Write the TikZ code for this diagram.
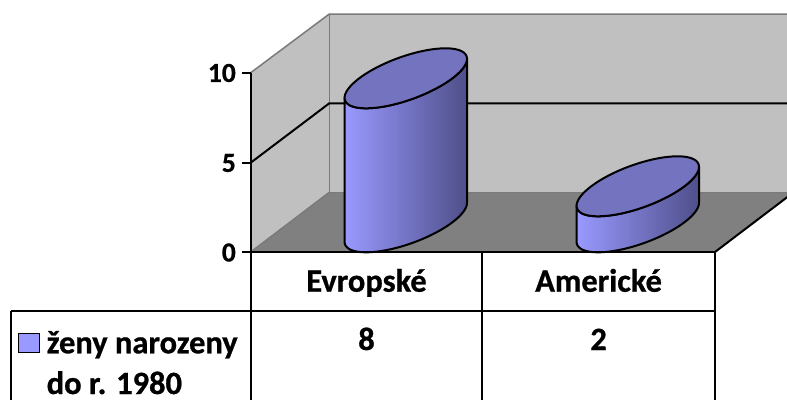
\documentclass[tikz,border=0pt]{standalone}
\usepackage{fontspec}
\setmainfont{Carlito}
\newfontfamily\chartfont{Carlito Bold}[FakeBold=0.8]
\usepackage{graphicx}
\definecolor{wallgray}{HTML}{C0C0C0}
\definecolor{floorgray}{HTML}{808080}
\definecolor{edgegray}{HTML}{7A7A7A}
\definecolor{barlight}{HTML}{9999FF}
\definecolor{bardark}{HTML}{4F4F8A}
\definecolor{bartop}{HTML}{7373C0}
\tikzset{
  blk/.style={line width=2pt, black},
  gedge/.style={line width=1.5pt, edgegray},
  tabtxt/.style={inner sep=0pt, anchor=base, font=\fontsize{32.5}{38}\chartfont},
  axtxt/.style={inner sep=0pt, anchor=east, font=\fontsize{27.5}{32}\chartfont},
}
% cylinder: #1 base-centre x, #2 base-centre y, #3 height
\newcommand\cylbar[3]{%
  \fill[left color=barlight, right color=bardark]
    plot[domain=40.43:-139.57, samples=60, variable=\t]
      ({#1+46.6*cos(\t)+39.7*sin(\t)}, {#2-30*sin(\t)})
    -- plot[domain=220.43:400.43, samples=60, variable=\t]
      ({#1+46.6*cos(\t)+39.7*sin(\t)}, {#2-#3-30*sin(\t)})
    -- cycle;
  \draw[blk, line join=round]
    plot[domain=40.43:-139.57, samples=60, variable=\t]
      ({#1+46.6*cos(\t)+39.7*sin(\t)}, {#2-30*sin(\t)})
    -- plot[domain=220.43:400.43, samples=60, variable=\t]
      ({#1+46.6*cos(\t)+39.7*sin(\t)}, {#2-#3-30*sin(\t)})
    -- cycle;
  \filldraw[blk, fill=bartop]
    plot[domain=0:360, samples=90, variable=\t]
      ({#1+46.6*cos(\t)+39.7*sin(\t)}, {#2-#3-30*sin(\t)}) -- cycle;
}
\begin{document}
\begin{tikzpicture}[x=1pt, y=-1pt]
\useasboundingbox (0,0) rectangle (787,400);
\begin{scope}
\clip (0,0) rectangle (787,400);
% corner coordinates of the 3-D frame
\coordinate (fl) at (250.7,252);   % floor front left
\coordinate (fr) at (715,252);     % floor front right
\coordinate (bl) at (329.3,192.3); % floor back left
\coordinate (br) at (793.6,192.3); % floor back right
\coordinate (tl) at (250.7,72.7);  % left wall top front
\coordinate (tb) at (329.3,14);    % back wall top left
\coordinate (tr) at (793.6,14);    % back wall top right
\coordinate (g5f) at (250.7,162.7);
\coordinate (g5b) at (329.3,103.3);
\coordinate (g5r) at (793.6,103.3);
% walls and floor
\fill[wallgray] (tb) rectangle (br);
\fill[wallgray] (tl) -- (tb) -- (bl) -- (fl) -- cycle;
\fill[floorgray] (fl) -- (bl) -- (br) -- (fr) -- cycle;
\draw[gedge] (tl) -- (tb) -- (tr);
\draw[gedge] (tb) -- (bl) -- (br);
\draw[gedge] (fl) -- (bl);
% grid line at 5
\draw[blk] (g5f) -- (g5b) -- (g5r);
% bars
\cylbar{405.8}{222.3}{144}
\cylbar{637.8}{222.3}{36}
% floor right edge
\draw[blk] (fr) -- (br);
\end{scope}
% axis, ticks
\coordinate (axb) at (250.7,400);
\coordinate (t10) at (242,72.7);
\coordinate (t5) at (242,162.7);
\coordinate (t0) at (242,252);
\draw[blk] (tl) -- (axb);
\draw[blk] (t10) -- (tl);
\draw[blk] (t5) -- (g5f);
\draw[blk] (t0) -- (fr);
\node[axtxt] (l10) at (236,73) {10};
\node[axtxt] (l5) at (236,163) {5};
\node[axtxt] (l0) at (236,252.5) {0};
% table
\coordinate (c1t) at (482.3,252);
\coordinate (c1b) at (482.3,400);
\coordinate (c2b) at (715,400);
\coordinate (rl) at (11,311);
\coordinate (rr) at (715,311);
\coordinate (lb) at (11,400);
\draw[blk] (c1t) -- (c1b);
\draw[blk] (fr) -- (c2b);
\draw[blk] (rl) -- (rr);
\draw[blk] (rl) -- (lb);
\node[tabtxt] (h1) at (366.5,291.7) {Evropské};
\node[tabtxt] (h2) at (598.6,291.7) {Americké};
\node[tabtxt] (v1) at (366.5,350) {8};
\node[tabtxt] (v2) at (598.6,350) {2};
\filldraw[fill=barlight, draw=black, line width=1.5pt] (18.3,333.3) rectangle (39.3,352.7);
\node[tabtxt, anchor=base west] (leg1) at (46.5,353.3) {ženy narozeny};
\node[tabtxt, anchor=base west] (leg2) at (46.5,394) {do r. 1980};
\end{tikzpicture}
\end{document}
